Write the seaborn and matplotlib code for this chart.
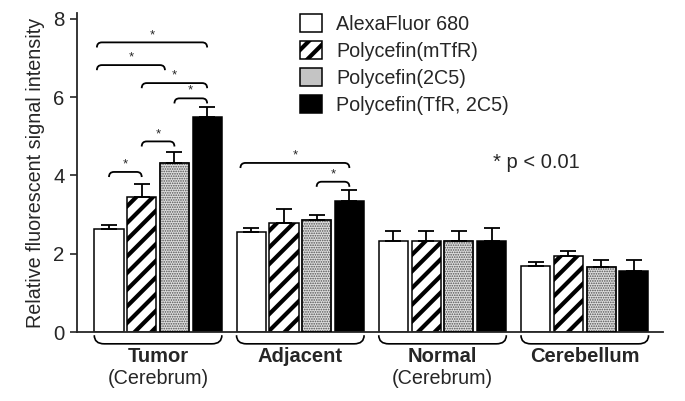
import numpy as np
import pandas as pd
import matplotlib.pyplot as plt
import seaborn as sns
from matplotlib.patches import Patch, Rectangle, PathPatch
from matplotlib.path import Path

#%%
'''data read from the figure'''
regions = ['Tumor', 'Adjacent', 'Normal', 'Cerebellum']
sublabels = ['(Cerebrum)', '', '(Cerebrum)', '']
agents = ['AlexaFluor 680', 'Polycefin(mTfR)', 'Polycefin(2C5)', 'Polycefin(TfR, 2C5)']

alexa = [2.62, 2.55, 2.33, 1.69]
mtfr = [3.46, 2.79, 2.33, 1.95]
c25 = [4.33, 2.85, 2.33, 1.66]
tfr_2c5 = [5.49, 3.36, 2.33, 1.56]

alexa_err = [0.12, 0.11, 0.26, 0.10]
mtfr_err = [0.31, 0.36, 0.26, 0.13]
c25_err = [0.27, 0.13, 0.26, 0.18]
tfr_2c5_err = [0.25, 0.26, 0.34, 0.29]

# significance brackets: (region, from slot, to slot, height)
brackets = [
    (0, 0, 1, 4.09),
    (0, 1, 2, 4.87),
    (0, 2, 3, 5.97),
    (0, 1, 3, 6.36),
    (0, -0.37, 1.71, 6.82),
    (0, -0.37, 3, 7.40),
    (1, -0.33, 3, 4.32),
    (1, 2, 3, 3.84),
]

values = [alexa, mtfr, c25, tfr_2c5]
errors = [alexa_err, mtfr_err, c25_err, tfr_2c5_err]
df = pd.DataFrame({
    'region': np.repeat([regions], 4, axis=0).ravel(),
    'agent': np.repeat(agents, 4),
    'value': np.concatenate(values),
})

#%%
sns.set_style('ticks')
plt.rcParams['font.family'] = ['Liberation Sans', 'DejaVu Sans']
plt.rcParams['hatch.linewidth'] = 3.0
FS = 14.2

fig = plt.figure(figsize=(6.85, 4.01), dpi=100)
ax = fig.add_axes([0.1124, 0.172, 0.8555, 0.7955])

width = 0.92
slot = width / 4
sns.barplot(data=df, x='region', y='value', hue='agent', order=regions,
            hue_order=agents, width=width, gap=0.11, errorbar=None,
            palette=['white', 'white', '#dedede', 'black'],
            edgecolor='black', linewidth=1.1, legend=False, ax=ax)

bar_conts = list(ax.containers)
hatches = ['', '//', '', '']
for i, cont in enumerate(bar_conts):
    for bar in cont:
        bar.set_hatch(hatches[i])
        if hasattr(bar, 'set_hatch_linewidth'):
            bar.set_hatch_linewidth(3.0)
        if i == 2:
            # stippled bars: grey dots, black outline on top
            bar.set_edgecolor('#505050')
            bar.set_hatch('.......')
            if hasattr(bar, 'set_hatch_linewidth'):
                bar.set_hatch_linewidth(0.8)
            ax.add_patch(Rectangle(bar.get_xy(), bar.get_width(), bar.get_height(),
                                   fill=False, edgecolor='black', linewidth=1.1, zorder=3))
    xs = [b.get_x() + b.get_width() / 2 for b in cont]
    ax.errorbar(xs, values[i], yerr=[np.zeros(4), errors[i]], fmt='none',
                ecolor='black', elinewidth=1.3, capsize=5.5, capthick=1.3, zorder=1)


def bracket(x0, x1, y, h=0.13, r=0.035):
    verts = [(x0, y - h), (x0, y), (x0 + r, y), (x1 - r, y), (x1, y), (x1, y - h)]
    codes = [Path.MOVETO, Path.CURVE3, Path.CURVE3, Path.LINETO, Path.CURVE3, Path.CURVE3]
    ax.add_patch(PathPatch(Path(verts, codes), fill=False, lw=1.3, color='black'))
    ax.text((x0 + x1) / 2, y + 0.19, '*', ha='center', va='center', fontsize=9.5)


for g, a, b, y in brackets:
    bracket(g + (a - 1.5) * slot, g + (b - 1.5) * slot, y)

# curly group markers below the axis
trans = ax.get_xaxis_transform()
for g, (name, sub) in enumerate(zip(regions, sublabels)):
    x0 = g - 2 * slot + slot * 0.05
    x1 = g + 2 * slot - slot * 0.05
    top, bot, r = -0.01, -0.037, 0.07
    verts = [(x0, top), (x0, bot), (x0 + r, bot), (x1 - r, bot), (x1, bot), (x1, top)]
    codes = [Path.MOVETO, Path.CURVE3, Path.CURVE3, Path.LINETO, Path.CURVE3, Path.CURVE3]
    ax.add_patch(PathPatch(Path(verts, codes), fill=False, lw=1.2, color='black',
                           transform=trans, clip_on=False))
    ax.text(g, -0.078, name, transform=trans, ha='center', va='center',
            fontsize=FS + 0.3, fontweight='bold')
    if sub:
        ax.text(g, -0.147, sub, transform=trans, ha='center', va='center', fontsize=FS)

ax.text(0.71, 0.53, '* p < 0.01', transform=ax.transAxes, ha='left', va='center',
        fontsize=FS + 0.3)

ax.set_xlim(-0.57, 3.55)
ax.set_ylim(0, 8.15)
ax.set_yticks([0, 2, 4, 6, 8])
ax.tick_params(axis='y', labelsize=FS + 0.5, length=5, width=1.2, pad=4)
ax.tick_params(axis='x', length=0, labelbottom=False)
ax.set_xlabel('')
ax.set_ylabel('Relative fluorescent signal intensity', fontsize=FS, labelpad=6)
for s in ['top', 'right']:
    ax.spines[s].set_visible(False)
for s in ['left', 'bottom']:
    ax.spines[s].set_linewidth(1.3)

# legend
handles = [
    Patch(facecolor='white', edgecolor='black', linewidth=1.1),
    Patch(facecolor='white', edgecolor='black', hatch='//', linewidth=1.1),
    Patch(facecolor='#c4c4c4', edgecolor='black', linewidth=1.1),
    Patch(facecolor='black', edgecolor='black', linewidth=1.1),
]
fig.legend(handles, agents, loc='upper left', bbox_to_anchor=(300 / 685, 1 - 14 / 401),
           bbox_transform=fig.transFigure, frameon=False, fontsize=FS,
           handlelength=1.1, handleheight=1.05, labelspacing=0.36,
           handletextpad=0.75, borderpad=0, borderaxespad=0)

plt.savefig('out.png', dpi=100)
